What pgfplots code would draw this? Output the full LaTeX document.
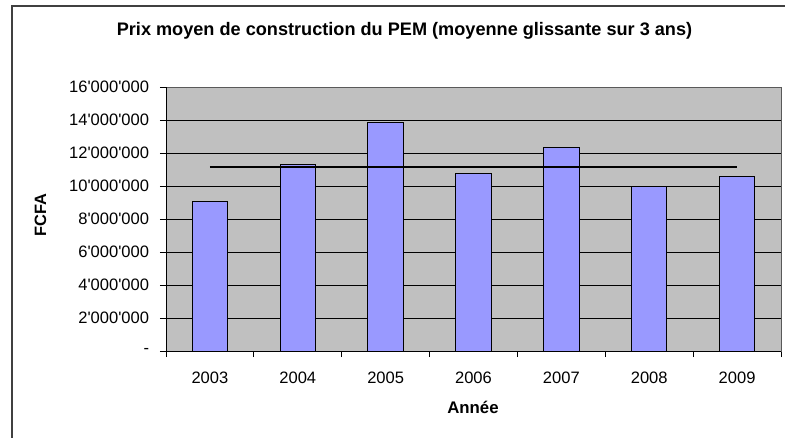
\documentclass[border=0pt]{standalone}
\usepackage{fontspec}
\setmainfont{Liberation Sans}[Ligatures=TeXOff]
\usepackage{pgfplots}
\pgfplotsset{compat=1.18}
\definecolor{plotbg}{HTML}{C0C0C0}
\definecolor{barfill}{HTML}{9999FF}
\newcommand{\tl}[1]{\textnormal{#1}}
\begin{document}
\fontsize{12}{14}\selectfont
\begin{tikzpicture}[x=0.75pt,y=0.75pt]
\clip (0,0) rectangle (785,437);
\fill[white] (0,0) rectangle (785,437);
\draw[line width=0.9pt, black!75] (12,-10) rectangle (800,431);
\begin{axis}[
  at={(124.5pt,64.5pt)}, anchor=south west,
  scale only axis, width=461.25pt, height=198pt,
  xmin=-0.5, xmax=6.5, ymin=0, ymax=16e6,
  scaled y ticks=false,
  axis background/.style={fill=plotbg},
  axis line style={draw=gray!70!black, line width=0.75pt},
  ytick={0,2e6,4e6,6e6,8e6,10e6,12e6,14e6,16e6},
  yticklabels={\tl{-},\tl{2'000'000},\tl{4'000'000},\tl{6'000'000},\tl{8'000'000},\tl{10'000'000},\tl{12'000'000},\tl{14'000'000},\tl{16'000'000}},
  ymajorgrids, grid style={black, line width=0.75pt},
  tick align=outside,
  major tick length=4.5pt, minor tick length=4.5pt,
  y tick style={black, line width=0.75pt},
  xtick={0,1,2,3,4,5,6},
  xticklabels={\tl{2003},\tl{2004},\tl{2005},\tl{2006},\tl{2007},\tl{2008},\tl{2009}},
  major x tick style={draw=none},
  minor xtick={-0.5,0.5,1.5,2.5,3.5,4.5,5.5,6.5},
  minor x tick style={black, line width=0.75pt},
  xtick pos=bottom, ytick pos=left,
  ticklabel style={font=\fontsize{12.4}{14}\selectfont},
  xticklabel style={yshift=-7pt},
  yticklabel style={xshift=-4pt},
  clip=false,
]
\addplot[ybar, bar width=26.6pt, fill=barfill, draw=black, line width=0.75pt]
  coordinates {(0,9.09e6) (1,11.3e6) (2,13.84e6) (3,10.75e6) (4,12.35e6) (5,10.0e6) (6,10.56e6)};
\addplot[black, line width=1.6pt, no marks]
  coordinates {(0,11.13e6) (1,11.13e6) (2,11.13e6) (3,11.13e6) (4,11.13e6) (5,11.13e6) (6,11.13e6)};
\draw[black, line width=0.75pt] (rel axis cs:0,1) -- (rel axis cs:0,0) -- (rel axis cs:1,0);
\end{axis}
\node[font=\bfseries\fontsize{13.6}{16}\selectfont] at (404.5,406) {Prix moyen de construction du PEM (moyenne glissante sur 3 ans)};
\node[font=\bfseries\fontsize{12.3}{14}\selectfont, rotate=90] at (40.5,222) {FCFA};
\node[font=\bfseries\fontsize{12.6}{14}\selectfont] at (473,30) {Année};
\end{tikzpicture}
\end{document}
